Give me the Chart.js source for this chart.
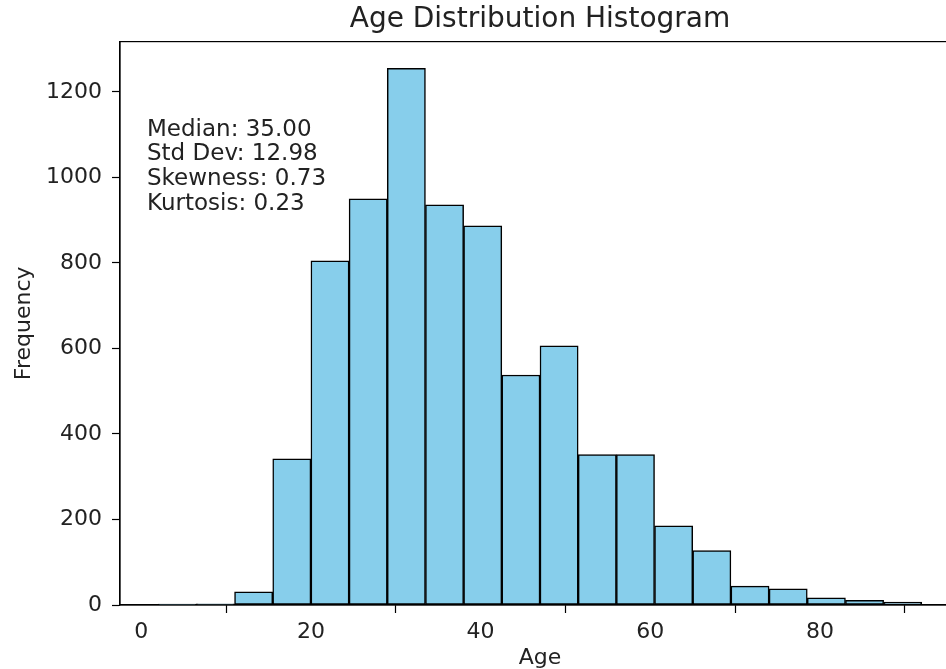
<!DOCTYPE html>
<html>
<head>
<meta charset="utf-8">
<script src="https://cdn.jsdelivr.net/npm/chart.js@4/dist/chart.umd.min.js"></script>
<style>
  html, body { margin: 0; padding: 0; background: #fff; overflow: hidden; }
  #wrap { width: 960px; height: 669px; position: relative; }
</style>
</head>
<body>
<div id="wrap"><canvas id="chart"></canvas></div>
<script>
// histogram bin edges (age) and counts per bin
const binEdges = [2, 6.5, 11, 15.5, 20, 24.5, 29, 33.5, 38, 42.5, 47, 51.5, 56, 60.5, 65, 69.5, 74, 78.5, 83, 87.5, 92];
const counts = [2, 3, 31, 342, 805, 950, 1255, 936, 887, 538, 606, 352, 352, 185, 127, 44, 38, 17, 11, 7];
const xTicks = [0, 20, 40, 60, 80];
const yTicks = [0, 200, 400, 600, 800, 1000, 1200];
const statsLines = ['Median: 35.00', 'Std Dev: 12.98', 'Skewness: 0.73', 'Kurtosis: 0.23'];

const FONT = 'DejaVu Sans';
const TXT = '#222';

const points = counts.map((c, i) => ({ x: (binEdges[i] + binEdges[i + 1]) / 2, y: c }));

// frame around plot + stats text
const framePlugin = {
  id: 'frame',
  afterDraw(chart) {
    const { ctx, chartArea: a } = chart;
    ctx.save();
    ctx.strokeStyle = '#000';
    ctx.lineWidth = 1.2;
    ctx.strokeRect(a.left, a.top, a.right - a.left, a.bottom - a.top);
    ctx.fillStyle = TXT;
    ctx.font = '23px "' + FONT + '"';
    ctx.textAlign = 'left';
    ctx.textBaseline = 'alphabetic';
    statsLines.forEach((line, i) => {
      ctx.fillText(line, a.left + 27, a.top + 94 + i * 24.7);
    });
    ctx.restore();
  }
};

new Chart(document.getElementById('chart'), {
  type: 'bar',
  data: {
    datasets: [{
      data: points,
      backgroundColor: '#87ceeb',
      borderColor: '#000',
      borderWidth: 1.5,
      borderSkipped: false,
      categoryPercentage: 1,
      barPercentage: 1,
    }],
  },
  options: {
    responsive: true,
    maintainAspectRatio: false,
    animation: false,
    layout: { padding: 0 },
    plugins: {
      legend: { display: false },
      tooltip: { enabled: false },
      title: {
        display: true,
        text: 'Age Distribution Histogram',
        fullSize: false,
        color: TXT,
        font: { family: FONT, size: 28, weight: 'normal', lineHeight: 1.2 },
        padding: { top: 3, bottom: 5 },
      },
    },
    scales: {
      x: {
        type: 'linear',
        min: -2.5,
        max: 96.5,
        offset: false,
        afterBuildTicks: (s) => { s.ticks = xTicks.map(v => ({ value: v })); },
        afterFit: (s) => { s.height = 64; },
        grid: { display: true, drawOnChartArea: false, drawTicks: true, tickLength: 8, color: '#000', tickWidth: 1.2 },
        border: { display: true, color: '#000', width: 1.2 },
        ticks: { color: TXT, padding: 6, maxRotation: 0, font: { family: FONT, size: 22 }, callback: (v) => String(v) },
        title: {
          display: true,
          text: 'Age',
          color: TXT,
          font: { family: FONT, size: 22, lineHeight: 1 },
          padding: { top: 0, bottom: 0 },
        },
      },
      y: {
        min: 0,
        max: 1317.75,
        afterBuildTicks: (s) => { s.ticks = yTicks.map(v => ({ value: v })); },
        afterFit: (s) => { s.width = 120; },
        grid: { display: true, drawOnChartArea: false, drawTicks: true, tickLength: 8, color: '#000', tickWidth: 1.2 },
        border: { display: true, color: '#000', width: 1.2 },
        ticks: { color: TXT, padding: 10, font: { family: FONT, size: 22 }, callback: (v) => String(v) },
        title: {
          display: true,
          text: 'Frequency',
          color: TXT,
          font: { family: FONT, size: 22, lineHeight: 1 },
          padding: { top: 13, bottom: 0 },
        },
      },
    },
  },
  plugins: [framePlugin],
});
</script>
</body>
</html>
